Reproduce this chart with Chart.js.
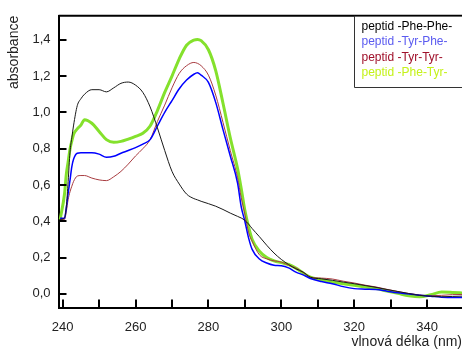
<!DOCTYPE html>
<html lang="cs">
<head>
<meta charset="UTF-8">
<title>Absorpční spektra peptidů</title>
<script src="https://cdn.jsdelivr.net/npm/chart.js"></script>
<style>
  body { margin: 0; background: #fff; }
  #graf { display: block; }
</style>
</head>
<body>
<canvas id="graf" width="462" height="358"></canvas>
<script>
// vlnová délka (nm) - společná osa pro všechna spektra
const vlnovaDelka = [239.3, 240.5, 241, 241.5, 242, 242.5, 243, 244, 245, 246,
  248, 250, 252, 254, 256, 258, 260, 262, 264, 266,
  268, 270, 272, 274, 276, 277, 278, 280, 282, 284,
  286, 288, 289, 290, 291, 292, 294, 296, 298, 300,
  302, 304, 306, 308, 311, 314, 317, 320, 323, 326,
  329, 332, 335, 338, 341, 344, 347, 350];

// absorbance jednotlivých peptidů
const phePhe = [0.41, 0.42, 0.48, 0.62, 0.78, 0.86, 0.93, 1.037, 1.075, 1.10,
  1.125, 1.125, 1.113, 1.135, 1.16, 1.167, 1.15, 1.11, 1.03, 0.915,
  0.79, 0.675, 0.605, 0.55, 0.525, 0.518, 0.51, 0.497, 0.483, 0.465,
  0.445, 0.427, 0.418, 0.405, 0.385, 0.36, 0.315, 0.268, 0.225, 0.19,
  0.162, 0.138, 0.12, 0.092, 0.083, 0.075, 0.065, 0.056, 0.046, 0.036,
  0.024, 0.013, 0.002, -0.008, -0.013, -0.016, -0.014, -0.012];
const tyrPhe = [0.417, 0.417, 0.475, 0.555, 0.625, 0.70, 0.743, 0.775, 0.778, 0.778,
  0.778, 0.77, 0.753, 0.758, 0.775, 0.79, 0.806, 0.825, 0.85, 0.925,
  1.0, 1.065, 1.13, 1.178, 1.21, 1.218, 1.205, 1.165, 1.055, 0.905,
  0.76, 0.61, 0.48, 0.40, 0.31, 0.245, 0.192, 0.17, 0.158, 0.155,
  0.143, 0.12, 0.105, 0.085, 0.068, 0.056, 0.04, 0.029, 0.026, 0.024,
  0.015, 0.006, 0.0, -0.008, -0.013, -0.018, -0.02, -0.02];
const tyrTyr = [0.41, 0.41, 0.454, 0.52, 0.562, 0.593, 0.62, 0.649, 0.652, 0.652,
  0.638, 0.628, 0.624, 0.645, 0.675, 0.715, 0.76, 0.80, 0.85, 0.95,
  1.04, 1.135, 1.215, 1.257, 1.275, 1.27, 1.257, 1.205, 1.095, 0.945,
  0.79, 0.64, 0.53, 0.44, 0.34, 0.29, 0.215, 0.193, 0.182, 0.175,
  0.158, 0.143, 0.118, 0.092, 0.087, 0.082, 0.07, 0.06, 0.048, 0.038,
  0.025, 0.013, 0.002, -0.006, -0.01, -0.008, -0.004, -0.003];
const pheTyr = [0.41, 0.55, 0.66, 0.728, 0.797, 0.842, 0.88, 0.909, 0.93, 0.96,
  0.94, 0.895, 0.85, 0.835, 0.84, 0.853, 0.868, 0.885, 0.925, 1.01,
  1.11, 1.2, 1.295, 1.37, 1.398, 1.402, 1.395, 1.345, 1.23, 1.05,
  0.86, 0.69, 0.58, 0.46, 0.37, 0.30, 0.235, 0.2, 0.182, 0.172,
  0.162, 0.142, 0.115, 0.092, 0.078, 0.065, 0.056, 0.047, 0.038, 0.029,
  0.016, 0.003, -0.01, -0.016, -0.005, 0.01, 0.008, 0.005];

const nazvy = ['peptid -Phe-Phe-', 'peptid -Tyr-Phe-', 'peptid -Tyr-Tyr-', 'peptid -Phe-Tyr-'];
const barvyCar = ['#1a1a1a', '#0000ff', '#a83c40', '#84e12c'];
const barvyLegendy = ['#000000', '#5b5bf0', '#a0102a', '#c5f21a'];
const tloustky = [1, 1.5, 1, 3];

// popisky a značky os
const yHodnoty = [0, 0.2, 0.4, 0.6, 0.8, 1.0, 1.2, 1.4];
const xPopisky = [240, 260, 280, 300, 320, 340];
const xZnacky = [240, 250, 260, 270, 280, 290, 300, 310, 320, 330, 340];

const pismo = '"Liberation Sans", Arial, sans-serif';
const serie = [phePhe, tyrPhe, tyrTyr, pheTyr];

// rámeček nahoře, vnitřní značky na osách a legenda v rámečku
const ramecek = {
  id: 'ramecek',
  afterDraw(chart) {
    const ctx = chart.ctx;
    const a = chart.chartArea;
    const sx = chart.scales.x, sy = chart.scales.y;
    ctx.save();
    ctx.strokeStyle = '#000';
    ctx.lineWidth = 2;
    ctx.beginPath();
    ctx.moveTo(a.left, a.top);
    ctx.lineTo(a.right, a.top);
    yHodnoty.forEach(v => {
      const y = Math.round(sy.getPixelForValue(v));
      ctx.moveTo(a.left, y);
      ctx.lineTo(a.left + 8, y);
    });
    xZnacky.forEach(v => {
      const x = Math.round(sx.getPixelForValue(v));
      ctx.moveTo(x, a.bottom);
      ctx.lineTo(x, a.bottom - 8);
    });
    ctx.stroke();

    // legenda
    const lx = 354.5, ly = a.top, lb = 87.5;
    ctx.fillStyle = '#fff';
    ctx.fillRect(lx, ly + 1, 120, lb - ly - 1);
    ctx.strokeStyle = '#333';
    ctx.lineWidth = 1;
    ctx.beginPath();
    ctx.moveTo(lx, ly);
    ctx.lineTo(lx, lb);
    ctx.lineTo(chart.width, lb);
    ctx.stroke();
    ctx.font = '12px ' + pismo;
    ctx.textBaseline = 'middle';
    ctx.textAlign = 'left';
    nazvy.forEach((t, i) => {
      ctx.fillStyle = barvyLegendy[i];
      ctx.fillText(t, 361.5, 26.7 + i * 15.3);
    });
    ctx.restore();
  }
};

new Chart(document.getElementById('graf'), {
  type: 'line',
  data: {
    labels: vlnovaDelka,
    datasets: serie.map((s, i) => ({
      label: nazvy[i],
      data: s.map((v, j) => ({ x: vlnovaDelka[j], y: v })),
      borderColor: barvyCar[i],
      borderWidth: tloustky[i],
      pointRadius: 0,
      fill: false,
      cubicInterpolationMode: 'monotone'
    }))
  },
  options: {
    responsive: false,
    animation: false,
    layout: { padding: { top: 11, right: 0, left: 0, bottom: 0 } },
    plugins: { legend: { display: false }, tooltip: { enabled: false } },
    scales: {
      x: {
        type: 'linear',
        min: 238.85,
        max: 349.6,
        afterBuildTicks: s => { s.ticks = xPopisky.map(v => ({ value: v })); },
        afterFit: s => { s.height = 50.5; },
        grid: { display: false, drawTicks: false },
        border: { display: true, color: '#000', width: 2 },
        ticks: { color: '#222', padding: 12, font: { size: 13, family: pismo }, maxRotation: 0, autoSkip: false },
        title: { display: true, text: 'vlnová délka (nm)', align: 'end', color: '#222',
          font: { size: 14, family: pismo }, padding: { top: 0, bottom: 7 } }
      },
      y: {
        min: -0.075,
        max: 1.532,
        afterBuildTicks: s => { s.ticks = yHodnoty.map(v => ({ value: v })); },
        afterFit: s => { s.width = 58.5; },
        grid: { display: false, drawTicks: false },
        border: { display: true, color: '#000', width: 2 },
        ticks: { color: '#222', padding: 8, font: { size: 13, family: pismo },
          callback: v => v.toFixed(1).replace('.', ',') },
        title: { display: true, text: 'absorbance', align: 'end', color: '#222',
          font: { size: 14, family: pismo }, padding: { top: 6, bottom: 0 } }
      }
    }
  },
  plugins: [ramecek]
});
</script>
</body>
</html>
